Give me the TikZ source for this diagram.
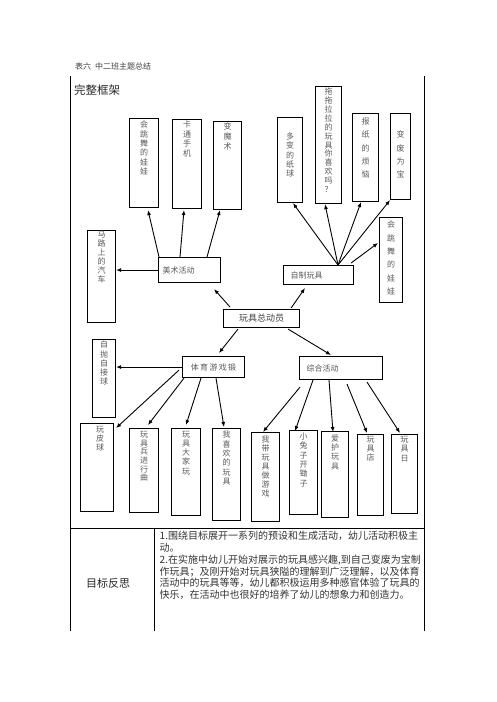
\documentclass[tikz,border=0pt]{standalone}
\usepackage{fontspec}
\setmainfont{Noto Sans CJK SC}
\usetikzlibrary{calc,arrows.meta}
\tikzset{
  boxst/.style={draw, line width=1.1pt, inner sep=0pt, anchor=north west},
  vtxt/.style={anchor=north, align=center, inner sep=0pt, text=black!65},
  htxt/.style={inner sep=0pt, text=black!65, font={\fontsize{8}{10}\selectfont}},
  arr/.style={line width=0.9pt, -{Latex[length=5pt,width=4pt]}},
  tbl/.style={line width=1pt}
}
\newcommand\bx[5]{\node[boxst, minimum width={#4-#2}, minimum height={#5-#3}] (#1) at (#2,#3) {};}
\newcommand\vt[6]{\node[vtxt, font={\fontsize{8}{#5}\selectfont}] (#1) at ($(#2.north)+(#3,#4-4)$) {#6};}
\begin{document}
\begin{tikzpicture}[x=1pt,y=-1pt]
\useasboundingbox (0,0) rectangle (496,702);
% header
\node[anchor=west, inner sep=0pt, font={\fontsize{8}{9}\selectfont}, text=black!75] (title) at (75,66.5) {表六\hspace{4pt}中二班主题总结};
\node[anchor=west, inner sep=0pt, font={\fontsize{11.5}{13}\selectfont}, text=black!85] (kuangjia) at (74,90) {完整框架};
% table
\draw[tbl] (70,76) -- (70,631);
\draw[tbl] (424,76) -- (424,631);
\draw[tbl] (70,528) -- (424,528);
\draw[tbl] (154,528) -- (154,631);
% top-left boxes
\bx{huitiaoA}{129}{118}{158}{207}
\vt{tA}{huitiaoA}{0}{7}{9.3}{会\\跳\\舞\\的\\娃\\娃}
\bx{katong}{172}{119}{201}{208}
\vt{tK}{katong}{0}{6}{9.5}{卡\\通\\手\\机}
\bx{moshu}{213}{121}{241}{209}
\vt{tM}{moshu}{0}{5.7}{9.7}{变\\魔\\术}
% top-right boxes
\bx{duobian}{277}{117}{302}{202}
\vt{tD}{duobian}{0}{19.7}{9.2}{多\\变\\的\\纸\\球}
\bx{tuotuo}{315}{86}{341}{203}
\vt{tT}{tuotuo}{0}{5.7}{8.9}{拖\\拖\\拉\\拉\\的\\玩\\具\\你\\喜\\欢\\吗\\？}
\bx{baozhi}{352}{113}{378}{201}
\vt{tB}{baozhi}{0}{8.7}{13.3}{报\\纸\\的\\烦\\恼}
\bx{biaofei}{390}{113}{410}{199}
\vt{tF}{biaofei}{0}{22}{13.3}{变\\废\\为\\宝}
% middle
\bx{malu}{87}{230}{115}{322}
\vt{tL}{malu}{0}{5}{9}{马\\路\\上\\的\\汽\\车}
\bx{meishu}{158}{257}{220}{282}
\node[htxt, anchor=west] (tMS) at ($(meishu.west)+(4.5,0)$) {美术活动};
\bx{zizhi}{283}{265}{353}{284}
\node[htxt, anchor=west] (tZZ) at ($(zizhi.west)+(7.5,0)$) {自制玩具};
\bx{huitiaoB}{379}{217}{402}{302}
\vt{tHB}{huitiaoB}{0}{8}{13.3}{会\\跳\\舞\\的\\娃\\娃}
\bx{zong}{223}{309}{299}{327}
\node[inner sep=0pt, font={\fontsize{9}{11}\selectfont}, text=black!75] (tZong) at (zong.center) {玩具总动员};
\bx{zipao}{92}{339}{115}{417}
\vt{tZP}{zipao}{0}{6}{9.2}{自\\抛\\自\\接\\球}
\bx{tiyu}{182}{356}{244}{377}
\node[htxt] (tTY) at (tiyu.center) {体\,育\,游\,戏\,锻};
\bx{zonghe}{299}{356}{382}{379}
\node[htxt, anchor=west] (tZH) at ($(zonghe.west)+(7.5,0)$) {综合活动};
% bottom row
\bx{wanpiqiu}{80}{423}{113}{511}
\vt{tW1}{wanpiqiu}{3}{7}{9.2}{玩\\皮\\球}
\bx{wanjubing}{129}{428}{158}{512}
\vt{tW2}{wanjubing}{0}{7}{8.7}{玩\\具\\兵\\进\\行\\曲}
\bx{dajia}{171}{428}{200}{515}
\vt{tW3}{dajia}{0}{7}{9.2}{玩\\具\\大\\家\\玩}
\bx{xihuan}{212}{428}{240}{520}
\vt{tW4}{xihuan}{0}{7}{9.3}{我\\喜\\欢\\的\\玩\\具}
\bx{wodai}{251}{432}{279}{521}
\vt{tW5}{wodai}{0}{8}{8.9}{我\\带\\玩\\具\\做\\游\\戏}
\bx{xiaotu}{289}{430}{317}{514}
\vt{tW6}{xiaotu}{0}{6.7}{9.3}{小\\兔\\子\\开\\锄\\子}
\bx{aihu}{321}{431}{348}{517}
\vt{tW7}{aihu}{0}{7.3}{9.4}{爱\\护\\玩\\具}
\bx{wanjudian}{357}{434}{383}{515}
\vt{tW8}{wanjudian}{0}{6}{9.2}{玩\\具\\店}
\bx{wanjuri}{391}{434}{417}{513}
\vt{tW9}{wanjuri}{0}{6}{9.6}{玩\\具\\日}
% arrows: 美术活动
\draw[arr] ($(meishu.north west)+(1,0)$) -- ($(huitiaoA.south west)+(19,2)$);
\draw[arr] ($(meishu.north west)+(22,0)$) -- ($(katong.south west)+(12,1)$);
\draw[arr] ($(meishu.north west)+(49,0)$) -- ($(moshu.south west)+(7,0)$);
\draw[arr] (meishu.west) -- (malu.east |- meishu.west);
\draw[arr] ($(zong.north west)+(7,-2)$) -- ($(meishu.south east)+(-7,6)$);
% arrows: 自制玩具
\coordinate (zzTop) at ($(zizhi.north west)+(55,0)$);
\draw[arr] (zzTop) -- ($(duobian.south west)+(16,0)$);
\draw[arr] (zzTop) -- ($(tuotuo.south west)+(10,0)$);
\draw[arr] (zzTop) -- ($(baozhi.south west)+(9,0)$);
\draw[arr] (zzTop) -- (biaofei.south west);
\draw[arr] ($(zizhi.north east)+(-3,-2)$) -- ($(huitiaoB.north west)+(-1,26)$);
\draw[arr] ($(zong.north east)+(-9,-1)$) -- ($(zizhi.south west)+(22,3)$);
% arrows: 体育游戏锻
\draw[arr] ($(zong.south west)+(15,1)$) -- ($(tiyu.north west)+(37,-3)$);
\draw[arr] (tiyu.west) -- (zipao.east |- tiyu.west);
\draw[arr] ($(tiyu.south west)+(-3,-8)$) -- ($(wanpiqiu.north east)+(2,5)$);
\draw[arr] ($(tiyu.south west)+(2,0)$) -- ($(wanjubing.north west)+(19,-3)$);
\draw[arr] ($(tiyu.south west)+(19,0)$) -- ($(dajia.north west)+(15,-3)$);
\draw[arr] ($(tiyu.south west)+(34,0)$) -- ($(xihuan.north west)+(12,-1)$);
% arrows: 综合活动
\draw[arr] ($(zong.south east)+(-12,1)$) -- ($(zonghe.north west)+(32,-1)$);
\draw[arr] ($(zonghe.south west)+(1,7)$) -- ($(wodai.north west)+(12,0)$);
\draw[arr] ($(zonghe.south west)+(14,0)$) -- ($(xiaotu.north west)+(6,1)$);
\draw[arr] ($(zonghe.south west)+(30,0)$) -- ($(aihu.north west)+(12,1)$);
\draw[arr] ($(zonghe.south west)+(48,4)$) -- ($(wanjudian.north west)+(10,-1)$);
\draw[arr] ($(zonghe.south west)+(68,2)$) -- ($(wanjuri.north west)+(9,-1)$);
% bottom row of table
\node[inner sep=0pt, font={\fontsize{11}{13}\selectfont}, text=black!85] (mubiao) at (108,583) {目标反思};
\node[anchor=north west, inner sep=0pt, align=left, font={\fontsize{10}{11.8}\selectfont}, text=black!80] (fansi) at (159.5,531) {1.围绕目标展开一系列的预设和生成活动，幼儿活动积极主\\动。\\2.在实施中幼儿开始对展示的玩具感兴趣,到自己变废为宝制\\作玩具；及刚开始对玩具狭隘的理解到广泛理解，以及体育\\活动中的玩具等等，幼儿都积极运用多种感官体验了玩具的\\快乐，在活动中也很好的培养了幼儿的想象力和创造力。};
\end{tikzpicture}
\end{document}
